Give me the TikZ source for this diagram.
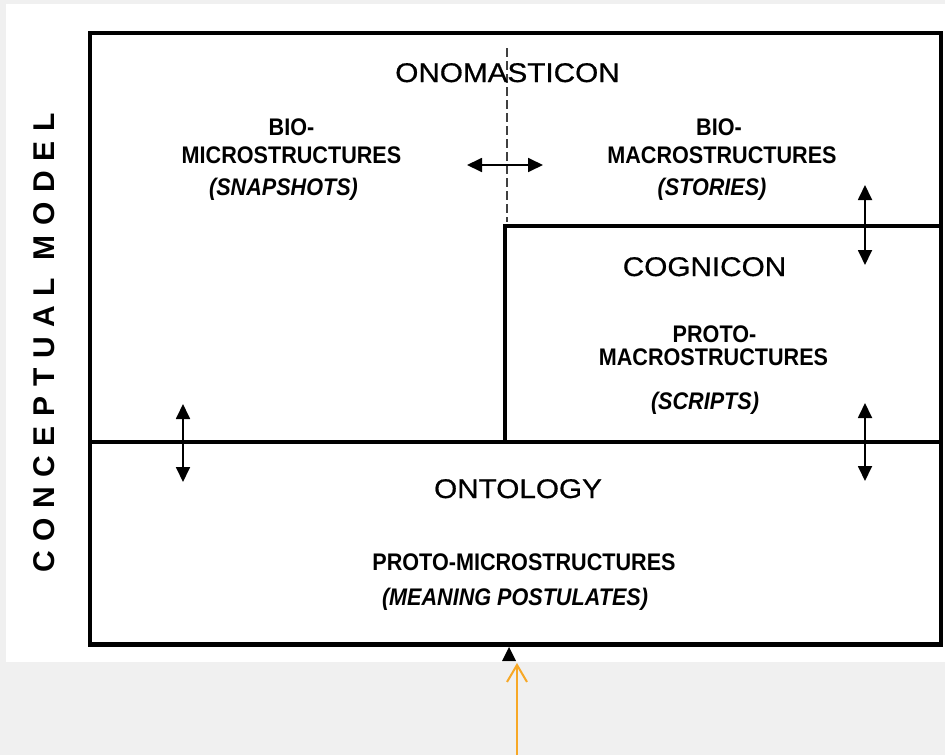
\documentclass[tikz,border=0pt]{standalone}
\usepackage{fontspec}
\setmainfont{Liberation Sans}
\usetikzlibrary{arrows.meta}

\definecolor{pagegray}{RGB}{240,240,240}
\definecolor{hintorange}{RGB}{247,168,38}

% horizontal squeeze / stretch of the lettering
\newcommand{\squeezed}[1]{\scalebox{0.9}[1]{#1}}
\newcommand{\stretched}[1]{\scalebox{1.1}[1]{#1}}

\begin{document}
\begin{tikzpicture}[x=1pt,y=-1pt,
  frame/.style={line width=4.5pt},
  divider/.style={line width=4pt},
  boundary/.style={black!75,line width=1.5pt,dash pattern=on 9pt off 4pt},
  link/.style={line width=1.8pt,{Triangle[length=15pt,width=14pt]}-{Triangle[length=15pt,width=14pt]}},
  pointer/.style={hintorange,line width=2pt,-{Straight Barb[length=17pt,width=20pt,line width=2pt]}},
  title/.style={font=\fontsize{27}{30}\selectfont\addfontfeature{FakeBold=0.6},anchor=base,inner sep=0pt},
  label/.style={font=\bfseries\fontsize{24}{26}\selectfont,anchor=base,inner sep=0pt},
  note/.style={font=\bfseries\itshape\fontsize{24}{26}\selectfont,anchor=base,inner sep=0pt},
  side/.style={font=\bfseries\fontsize{30}{32}\selectfont\addfontfeature{LetterSpace=32},anchor=base,inner sep=0pt,rotate=90}]

% page and panel
\fill[pagegray] (0,0) rectangle (945,755);
\fill[white] (6,4) rectangle (945,662);
\useasboundingbox (0,0) rectangle (945,755);

% frame corners and dividers
\coordinate (nw) at (90,33);
\coordinate (se) at (941,644.5);
\coordinate (midL) at (90,442);
\coordinate (midR) at (941,442);
\coordinate (stepB) at (505,442);
\coordinate (stepT) at (505,226);
\coordinate (stepR) at (941,226);
\coordinate (dashT) at (507,48);
\coordinate (dashB) at (507,222);

\draw[frame] (nw) rectangle (se);
\draw[divider] (midL) -- (midR);
\draw[divider] (stepB) -- (stepT) -- (stepR);
\draw[boundary] (dashT) -- (dashB);

% side caption
\node[side] (model) at (54,343) {CONCEPTUAL MODEL};

% onomasticon
\node[title] (onom) at (507.5,82) {\stretched{ONOMASTICON}};
\node[label] (bioA) at (291.5,135) {\squeezed{BIO-}};
\node[label] (micro) at (291.5,163) {\squeezed{MICROSTRUCTURES}};
\node[note] (snap) at (283.5,195) {\squeezed{(SNAPSHOTS)}};
\node[label] (bioB) at (719,135) {\squeezed{BIO-}};
\node[label] (macro) at (722,163) {\squeezed{MACROSTRUCTURES}};
\node[note] (stories) at (712,195) {\squeezed{(STORIES)}};

% cognicon
\node[title] (cogn) at (704.5,276) {\stretched{COGNICON}};
\node[label] (protoA) at (714.5,342) {\squeezed{PROTO-}};
\node[label] (pmacro) at (713.5,365) {\squeezed{MACROSTRUCTURES}};
\node[note] (scripts) at (705,409) {\squeezed{(SCRIPTS)}};

% ontology
\node[title] (onto) at (518,498) {\stretched{ONTOLOGY}};
\node[label] (pmicro) at (524,570) {\squeezed{PROTO-MICROSTRUCTURES}};
\node[note] (meaning) at (515,605) {\squeezed{(MEANING POSTULATES)}};

% exchange arrows
\coordinate (hL) at (467,165);
\coordinate (hR) at (543,165);
\coordinate (vaT) at (865,185);
\coordinate (vaB) at (865,265);
\coordinate (vbT) at (183,404);
\coordinate (vbB) at (183,482);
\coordinate (vcT) at (865,403);
\coordinate (vcB) at (865,481);
\draw[link] (hL) -- (hR);
\draw[link] (vaT) -- (vaB);
\draw[link] (vbT) -- (vbB);
\draw[link] (vcT) -- (vcB);

% small tip under the frame
\coordinate (tipApex) at (509,647);
\fill (tipApex) -- (502,661) -- (516,661) -- cycle;

% orange pointer
\coordinate (ptrFoot) at (517,755);
\coordinate (ptrHead) at (517,663);
\draw[pointer] (ptrFoot) -- (ptrHead);
\end{tikzpicture}
\end{document}
